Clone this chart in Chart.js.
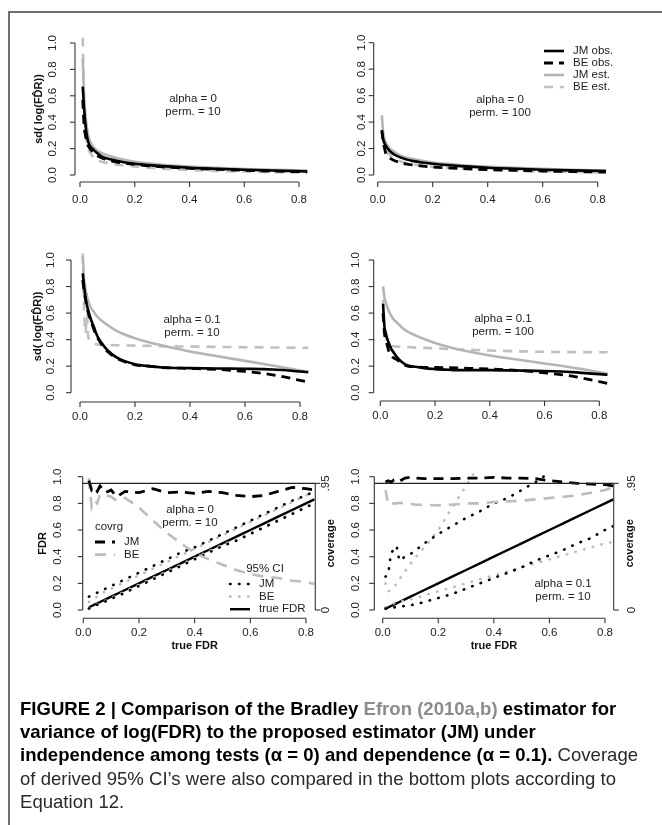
<!DOCTYPE html>
<html>
<head>
<meta charset="utf-8">
<title>Figure 2</title>
<script src="https://cdn.jsdelivr.net/npm/chart.js@4.4.1/dist/chart.umd.min.js"></script>
<style>
  html, body { margin: 0; padding: 0; background: #fff; }
  body { position: relative; width: 662px; height: 825px; overflow: hidden; }
  #frame { position: absolute; left: 8px; top: 11px; width: 720px; height: 900px;
           border: 2px solid #707070; box-sizing: border-box; }
  .panel { position: absolute; left: 0; top: 0; }
  #caption { position: absolute; left: 20px; top: 697px; color: #2a2a2a; white-space: nowrap;
             font-family: "Liberation Sans", Arial, sans-serif;
             font-size: 19px; line-height: 23.2px; transform-origin: 0 0; }
  #caption b { color: #000; }
  #caption .ref { color: #8c8c8c; }
</style>
</head>
<body>
<div id="frame"></div>
<canvas class="panel" id="tl" width="662" height="825"></canvas>
<canvas class="panel" id="tr" width="662" height="825"></canvas>
<canvas class="panel" id="ml" width="662" height="825"></canvas>
<canvas class="panel" id="mr" width="662" height="825"></canvas>
<canvas class="panel" id="bl" width="662" height="825"></canvas>
<canvas class="panel" id="br" width="662" height="825"></canvas>
<div id="caption">
  <div id="capFirst"><b>FIGURE 2 | Comparison of the Bradley <span class="ref">Efron (2010a,b)</span> estimator for</b></div>
  <div><b>variance of log(FDR) to the proposed estimator (JM) under</b></div>
  <div><b>independence among tests (α = 0) and dependence (α = 0.1).</b> Coverage</div>
  <div>of derived 95% CI’s were also compared in the bottom plots according to</div>
  <div>Equation 12.</div>
</div>
<script>
// ---------- data ----------
// true FDR grids (x values)
const fdrTop = [0.01, 0.015, 0.02, 0.025, 0.03, 0.04, 0.05, 0.06, 0.08, 0.1, 0.13, 0.16, 0.2, 0.25, 0.3, 0.4, 0.5, 0.6, 0.7, 0.83];
const fdrTop100 = [0.015, 0.02, 0.025, 0.03, 0.04, 0.05, 0.06, 0.08, 0.1, 0.13, 0.16, 0.2, 0.25, 0.3, 0.4, 0.5, 0.6, 0.7, 0.83];
const fdrCovA = [0.02, 0.03, 0.04, 0.05, 0.06, 0.08, 0.1, 0.12, 0.15, 0.2, 0.25, 0.3, 0.35, 0.4, 0.45, 0.5, 0.55, 0.6, 0.65, 0.7, 0.75, 0.8, 0.83];
const fdrCovB = [0.01, 0.02, 0.03, 0.04, 0.05, 0.06, 0.08, 0.1, 0.12, 0.15, 0.2, 0.25, 0.3, 0.35, 0.4, 0.45, 0.5, 0.55, 0.6, 0.65, 0.7, 0.75, 0.8, 0.83];

// alpha = 0, perm = 10
const tlJmObs = [0.67, 0.5, 0.38, 0.3, 0.25, 0.21, 0.19, 0.17, 0.14, 0.125, 0.11, 0.097, 0.085, 0.075, 0.067, 0.055, 0.047, 0.04, 0.034, 0.027];
const tlBeObs = [0.57, 0.37, 0.3, 0.25, 0.22, 0.19, 0.17, 0.15, 0.13, 0.115, 0.1, 0.09, 0.08, 0.07, 0.062, 0.05, 0.042, 0.036, 0.03, 0.024];
const tlJmEst = [0.88, 0.6, 0.45, 0.36, 0.3, 0.24, 0.21, 0.19, 0.165, 0.15, 0.13, 0.115, 0.1, 0.088, 0.078, 0.064, 0.054, 0.046, 0.04, 0.033];
const tlBeEst = [1.04, 0.55, 0.33, 0.25, 0.2, 0.16, 0.13, 0.115, 0.1, 0.09, 0.08, 0.072, 0.065, 0.055, 0.048, 0.038, 0.031, 0.026, 0.022, 0.018];

// alpha = 0, perm = 100
const trJmObs = [0.33, 0.27, 0.24, 0.22, 0.19, 0.17, 0.155, 0.135, 0.12, 0.105, 0.095, 0.085, 0.075, 0.067, 0.055, 0.047, 0.04, 0.035, 0.03];
const trBeObs = [0.34, 0.25, 0.2, 0.16, 0.135, 0.12, 0.11, 0.095, 0.085, 0.075, 0.068, 0.06, 0.054, 0.049, 0.041, 0.035, 0.03, 0.026, 0.022];
const trJmEst = [0.45, 0.32, 0.27, 0.24, 0.21, 0.19, 0.175, 0.15, 0.135, 0.12, 0.108, 0.095, 0.085, 0.076, 0.063, 0.054, 0.046, 0.04, 0.034];
const trBeEst = [0.3, 0.26, 0.22, 0.19, 0.16, 0.14, 0.125, 0.105, 0.092, 0.08, 0.071, 0.062, 0.054, 0.048, 0.039, 0.032, 0.027, 0.023, 0.019];

// alpha = 0.1, perm = 10
const mlJmObs = [0.9, 0.8, 0.72, 0.66, 0.62, 0.55, 0.5, 0.44, 0.37, 0.32, 0.27, 0.24, 0.215, 0.2, 0.19, 0.185, 0.182, 0.18, 0.175, 0.155];
const mlBeObs = [0.85, 0.76, 0.7, 0.65, 0.6, 0.54, 0.48, 0.43, 0.36, 0.31, 0.265, 0.235, 0.21, 0.2, 0.19, 0.183, 0.175, 0.16, 0.135, 0.08];
const mlJmEst = [1.03, 0.85, 0.78, 0.73, 0.69, 0.64, 0.61, 0.58, 0.54, 0.51, 0.47, 0.44, 0.41, 0.38, 0.355, 0.31, 0.275, 0.24, 0.205, 0.155];
const mlBeEst = [1.05, 0.62, 0.45, 0.58, 0.42, 0.39, 0.375, 0.365, 0.36, 0.36, 0.358, 0.356, 0.355, 0.353, 0.35, 0.348, 0.345, 0.343, 0.341, 0.338];

// alpha = 0.1, perm = 100
const mrJmObs = [0.67, 0.5, 0.45, 0.41, 0.38, 0.33, 0.3, 0.27, 0.23, 0.205, 0.195, 0.185, 0.178, 0.173, 0.17, 0.17, 0.167, 0.163, 0.155, 0.135];
const mrBeObs = [0.6, 0.45, 0.4, 0.36, 0.32, 0.28, 0.26, 0.25, 0.22, 0.2, 0.195, 0.19, 0.19, 0.188, 0.185, 0.178, 0.168, 0.15, 0.125, 0.07];
const mrJmEst = [0.8, 0.72, 0.68, 0.65, 0.62, 0.58, 0.55, 0.53, 0.49, 0.46, 0.43, 0.405, 0.375, 0.345, 0.32, 0.28, 0.25, 0.22, 0.19, 0.145];
const mrBeEst = [0.7, 0.5, 0.42, 0.39, 0.37, 0.355, 0.35, 0.348, 0.345, 0.343, 0.34, 0.338, 0.335, 0.33, 0.325, 0.318, 0.312, 0.308, 0.306, 0.305];

// coverage + 95% CI, alpha = 0, perm = 10
const blJmCov = [0.97, 0.9, 0.92, 0.89, 0.93, 0.88, 0.9, 0.85, 0.89, 0.88, 0.91, 0.88, 0.885, 0.875, 0.89, 0.88, 0.86, 0.85, 0.86, 0.89, 0.92, 0.91, 0.9];
const blBeCov = [0.99, 0.77, 0.82, 0.8, 0.87, 0.86, 0.85, 0.82, 0.84, 0.77, 0.67, 0.58, 0.5, 0.43, 0.38, 0.34, 0.3, 0.27, 0.25, 0.24, 0.22, 0.21, 0.195];
const blJmUpper = [0.1, 0.11, 0.12, 0.13, 0.14, 0.16, 0.18, 0.2, 0.23, 0.28, 0.33, 0.38, 0.43, 0.47, 0.52, 0.57, 0.62, 0.67, 0.72, 0.77, 0.82, 0.86, 0.89];
const blBeUpper = [0.06, 0.08, 0.09, 0.1, 0.12, 0.14, 0.16, 0.18, 0.21, 0.26, 0.31, 0.36, 0.41, 0.46, 0.51, 0.56, 0.61, 0.66, 0.71, 0.76, 0.81, 0.86, 0.88];
const blJmLower = [0.01, 0.02, 0.03, 0.04, 0.045, 0.065, 0.085, 0.1, 0.13, 0.18, 0.23, 0.28, 0.33, 0.38, 0.43, 0.48, 0.52, 0.57, 0.62, 0.67, 0.72, 0.77, 0.8];
const blBeLower = [0.015, 0.025, 0.035, 0.045, 0.05, 0.07, 0.09, 0.11, 0.14, 0.19, 0.24, 0.29, 0.34, 0.39, 0.44, 0.49, 0.53, 0.58, 0.63, 0.68, 0.73, 0.78, 0.81];
const blTruth = [0.02, 0.03, 0.04, 0.05, 0.06, 0.08, 0.1, 0.12, 0.15, 0.2, 0.25, 0.3, 0.35, 0.4, 0.45, 0.5, 0.55, 0.6, 0.65, 0.7, 0.75, 0.8, 0.83];

// coverage + 95% CI, alpha = 0.1, perm = 10
const brJmCov = [0.96, 0.97, 0.96, 0.975, 0.98, 0.965, 0.99, 0.995, 0.99, 0.985, 0.985, 0.985, 0.99, 0.99, 0.995, 0.99, 0.99, 0.985, 0.97, 0.96, 0.95, 0.945, 0.94, 0.93];
const brBeCov = [0.9, 0.79, 0.8, 0.8, 0.8, 0.805, 0.8, 0.795, 0.79, 0.79, 0.785, 0.79, 0.8, 0.8, 0.81, 0.815, 0.82, 0.83, 0.84, 0.85, 0.86, 0.88, 0.9, 0.92];
const brJmUpper = [0.25, 0.27, 0.43, 0.45, 0.48, 0.37, 0.4, 0.42, 0.45, 0.5, 0.57, 0.63, 0.69, 0.74, 0.8, 0.84, 0.9, 0.96, 1.03];
const brBeUpper = [0.2, 0.14, 0.15, 0.17, 0.2, 0.23, 0.29, 0.35, 0.4, 0.47, 0.6, 0.77, 0.93, 1.1];
const brJmLower = [0.01, 0.01, 0.015, 0.02, 0.02, 0.025, 0.03, 0.035, 0.045, 0.06, 0.09, 0.12, 0.16, 0.2, 0.24, 0.28, 0.32, 0.37, 0.41, 0.45, 0.5, 0.54, 0.6, 0.63];
const brBeLower = [0.02, 0.03, 0.04, 0.05, 0.055, 0.06, 0.07, 0.08, 0.09, 0.11, 0.14, 0.17, 0.2, 0.23, 0.26, 0.29, 0.32, 0.35, 0.38, 0.41, 0.44, 0.47, 0.5, 0.51];
const brTruth = [0.01, 0.02, 0.03, 0.04, 0.05, 0.06, 0.08, 0.1, 0.12, 0.15, 0.2, 0.25, 0.3, 0.35, 0.4, 0.45, 0.5, 0.55, 0.6, 0.65, 0.7, 0.75, 0.8, 0.83];

// ticks
const xTickVals = [0, 0.2, 0.4, 0.6, 0.8];
const yTickVals = [0, 0.2, 0.4, 0.6, 0.8, 1.0];
const covTickVals = [0, 0.95];
const covTickLabels = ['0', '.95'];
const coverageTarget = 0.95;

// ---------- styles ----------
const GREY = '#b5b5b5';
const lineStyles = {
    jmObs: { borderColor: '#000', borderWidth: 2.6 },
    beObs: { borderColor: '#000', borderWidth: 2.8, borderDash: [9, 6] },
    jmEst: { borderColor: GREY, borderWidth: 2.6 },
    beEst: { borderColor: '#c0c0c0', borderWidth: 2.6, borderDash: [9, 7] },
    jmCov: { borderColor: '#000', borderWidth: 2.8, borderDash: [10, 7] },
    beCov: { borderColor: '#bdbdbd', borderWidth: 2.6, borderDash: [11, 8] },
    jmCI:  { borderColor: '#000', borderWidth: 2.6, borderDash: [0.5, 8.5], borderCapStyle: 'round' },
    beCI:  { borderColor: '#bdbdbd', borderWidth: 2.6, borderDash: [0.5, 8.5], borderCapStyle: 'round' },
    truth: { borderColor: '#000', borderWidth: 2.4 },
};

const TICK_FONT = '11.5px "Liberation Sans", Arial, sans-serif';
const TITLE_FONT = 'bold 11px "Liberation Sans", Arial, sans-serif';

// R-like axes, titles, notes and legends drawn off the chart's own scales
const rStyle = {
    id: 'rStyle',
    afterDatasetsDraw(chart, args, o) {
        const { ctx, chartArea: a, scales: { x, y } } = chart;
        const seg = (x1, y1, x2, y2) => { ctx.beginPath(); ctx.moveTo(x1, y1); ctx.lineTo(x2, y2); ctx.stroke(); };
        const vText = (t, px, py) => {
            ctx.save(); ctx.translate(px, py); ctx.rotate(-Math.PI / 2); ctx.fillText(t, 0, 0); ctx.restore();
        };
        ctx.save();
        ctx.textAlign = 'center';
        ctx.textBaseline = 'middle';
        ctx.fillStyle = '#222';

        if (o.hline) {
            ctx.strokeStyle = '#222'; ctx.lineWidth = 1.3;
            const py = y.getPixelForValue(coverageTarget);
            seg(a.left, py, a.right, py);
        }

        ctx.strokeStyle = '#333';
        ctx.lineWidth = 1.1;
        ctx.font = TICK_FONT;

        // bottom axis
        const xp = xTickVals.map(v => x.getPixelForValue(v));
        seg(xp[0], a.bottom, xp[xp.length - 1], a.bottom);
        xp.forEach((p, i) => {
            seg(p, a.bottom, p, a.bottom + 5);
            ctx.fillText(xTickVals[i].toFixed(1), p, a.bottom + o.xLab);
        });

        // left axis
        const yp = yTickVals.map(v => y.getPixelForValue(v));
        seg(a.left, yp[0], a.left, yp[yp.length - 1]);
        yp.forEach((p, i) => {
            seg(a.left, p, a.left - 5, p);
            vText(yTickVals[i].toFixed(1), a.left - o.yLab, p);
        });

        // right coverage axis
        if (o.right) {
            const rp = covTickVals.map(v => y.getPixelForValue(v));
            seg(a.right, rp[0], a.right, rp[rp.length - 1]);
            rp.forEach((p, i) => {
                seg(a.right, p, a.right + 5, p);
                vText(covTickLabels[i], a.right + o.right.lab, p);
            });
        }

        ctx.font = TITLE_FONT;
        ctx.fillStyle = '#111';
        const midY = (y.getPixelForValue(0) + y.getPixelForValue(1)) / 2;
        if (o.yTitle) vText(o.yTitle.text, a.left - o.yTitle.dx, midY);
        if (o.right) vText(o.right.title, a.right + o.right.dx, midY);
        if (o.xTitle) ctx.fillText(o.xTitle.text, (xp[0] + xp[xp.length - 1]) / 2, a.bottom + o.xTitle.dy);

        // annotations
        ctx.font = TICK_FONT;
        ctx.fillStyle = '#222';
        (o.notes || []).forEach(n => n.lines.forEach((t, i) => ctx.fillText(t, n.x, n.y + i * 12.5)));

        // legends
        (o.legends || []).forEach(lg => {
            if (lg.title) { ctx.textAlign = 'center'; ctx.fillText(lg.title, lg.titleX, lg.y); }
            lg.rows.forEach((r, i) => {
                const st = lineStyles[r.style];
                const ry = lg.y + (lg.title ? 15 : 0) + i * lg.step;
                ctx.save();
                ctx.strokeStyle = st.borderColor;
                ctx.lineWidth = st.borderWidth;
                ctx.lineCap = st.borderCapStyle || 'butt';
                ctx.setLineDash(st.borderDash || []);
                seg(lg.x, ry, lg.x + 20, ry);
                ctx.restore();
                ctx.textAlign = 'left';
                ctx.fillText(r.label, lg.x + 29, ry);
            });
        });
        ctx.restore();
    }
};

// ---------- panels ----------
const W = 662, H = 825;
const panels = [
    {
        id: 'tl', smooth: true,
        box: { x0: 80, x8: 299, y0: 175, y1: 43, left: 75, right: 316, top: 30, bottom: 182 },
        series: [[fdrTop, tlBeEst, 'beEst'], [fdrTop, tlJmEst, 'jmEst'], [fdrTop, tlBeObs, 'beObs'], [fdrTop, tlJmObs, 'jmObs']],
        deco: { xLab: 18, yLab: 22, yTitle: { text: 'sd( log(FD\u0302R))', dx: 36 },
                notes: [{ x: 193, y: 99, lines: ['alpha = 0', 'perm. = 10'] }] },
    },
    {
        id: 'tr', smooth: true,
        box: { x0: 377.7, x8: 597.7, y0: 175, y1: 42.7, left: 373.7, right: 612, top: 30, bottom: 182 },
        series: [[fdrTop100, trBeEst, 'beEst'], [fdrTop100, trJmEst, 'jmEst'], [fdrTop100, trBeObs, 'beObs'], [fdrTop100, trJmObs, 'jmObs']],
        deco: { xLab: 18, yLab: 12,
                notes: [{ x: 500, y: 100, lines: ['alpha = 0', 'perm. = 100'] }],
                legends: [{ x: 544, y: 51, step: 12, rows: [
                    { label: 'JM obs.', style: 'jmObs' }, { label: 'BE obs.', style: 'beObs' },
                    { label: 'JM est.', style: 'jmEst' }, { label: 'BE est.', style: 'beEst' }] }] },
    },
    {
        id: 'ml', smooth: true,
        box: { x0: 80, x8: 300, y0: 392.7, y1: 260, left: 71, right: 316, top: 248, bottom: 402 },
        series: [[fdrTop, mlBeEst, 'beEst'], [fdrTop, mlJmEst, 'jmEst'], [fdrTop, mlJmObs, 'jmObs'], [fdrTop, mlBeObs, 'beObs']],
        deco: { xLab: 15, yLab: 20, yTitle: { text: 'sd( log(FD\u0302R))', dx: 33 },
                notes: [{ x: 192, y: 320, lines: ['alpha = 0.1', 'perm. = 10'] }] },
    },
    {
        id: 'mr', smooth: true,
        box: { x0: 380.3, x8: 599.3, y0: 392.7, y1: 260, left: 373.7, right: 612, top: 248, bottom: 401 },
        series: [[fdrTop, mrBeEst, 'beEst'], [fdrTop, mrJmEst, 'jmEst'], [fdrTop, mrJmObs, 'jmObs'], [fdrTop, mrBeObs, 'beObs']],
        deco: { xLab: 15, yLab: 18,
                notes: [{ x: 503, y: 319, lines: ['alpha = 0.1', 'perm. = 100'] }] },
    },
    {
        id: 'bl', smooth: false,
        box: { x0: 83.3, x8: 306, y0: 610, y1: 476.7, left: 82.7, right: 315.3, top: 471, bottom: 618.3 },
        series: [[fdrCovA, blTruth, 'truth'], [fdrCovA, blBeUpper, 'beCI'], [fdrCovA, blBeLower, 'beCI'],
                 [fdrCovA, blJmUpper, 'jmCI'], [fdrCovA, blJmLower, 'jmCI'],
                 [fdrCovA, blBeCov, 'beCov'], [fdrCovA, blJmCov, 'jmCov']],
        deco: { hline: true, xLab: 15, yLab: 25, yTitle: { text: 'FDR', dx: 40 }, xTitle: { text: 'true FDR', dy: 28 },
                right: { lab: 11, title: 'coverage', dx: 16 },
                notes: [{ x: 190, y: 510, lines: ['alpha = 0', 'perm. = 10'] }],
                legends: [
                    { title: 'covrg', titleX: 109, x: 95, y: 527, step: 12.6, rows: [
                        { label: 'JM', style: 'jmCov' }, { label: 'BE', style: 'beCov' }] },
                    { title: '95% CI', titleX: 265, x: 230, y: 569, step: 12.6, rows: [
                        { label: 'JM', style: 'jmCI' }, { label: 'BE', style: 'beCI' }, { label: 'true FDR', style: 'truth' }] }] },
    },
    {
        id: 'br', smooth: false,
        box: { x0: 382.7, x8: 605, y0: 610, y1: 476.7, left: 374.3, right: 613.7, top: 471, bottom: 618.3 },
        series: [[fdrCovB, brTruth, 'truth'], [fdrCovB, brBeUpper, 'beCI'], [fdrCovB, brBeLower, 'beCI'],
                 [fdrCovB, brJmUpper, 'jmCI'], [fdrCovB, brJmLower, 'jmCI'],
                 [fdrCovB, brBeCov, 'beCov'], [fdrCovB, brJmCov, 'jmCov']],
        deco: { hline: true, xLab: 15, yLab: 18, xTitle: { text: 'true FDR', dy: 28 },
                right: { lab: 18, title: 'coverage', dx: 16 },
                notes: [{ x: 563, y: 584, lines: ['alpha = 0.1', 'perm. = 10'] }] },
    },
];

const makePanel = (p) => {
    const b = p.box;
    const ppx = (b.x8 - b.x0) / 0.8;
    const ppy = b.y0 - b.y1;
    new Chart(document.getElementById(p.id), {
        type: 'line',
        data: {
            datasets: p.series.map(([xs, ys, key], i, all) => ({
                data: ys.map((v, j) => ({ x: xs[j], y: v })),
                ...lineStyles[key],
                pointRadius: 0,
                fill: false,
                clip: 0,
                order: all.length - i, // R-style: later series on top
                cubicInterpolationMode: p.smooth ? 'monotone' : 'default',
                tension: 0,
            })),
        },
        options: {
            responsive: false,
            animation: false,
            events: [],
            layout: { padding: { left: b.left, top: b.top, right: W - b.right, bottom: H - b.bottom } },
            scales: {
                x: { type: 'linear', display: false, min: (b.left - b.x0) / ppx, max: (b.right - b.x0) / ppx },
                y: { type: 'linear', display: false, min: (b.y0 - b.bottom) / ppy, max: (b.y0 - b.top) / ppy },
            },
            plugins: { legend: { display: false }, tooltip: { enabled: false }, rStyle: p.deco },
        },
        plugins: [rStyle],
    });
};

panels.forEach(makePanel);

// condensed caption: squeeze so the first line spans like the printed one
const cap = document.getElementById('caption');
const firstW = document.getElementById('capFirst').firstElementChild.getBoundingClientRect().width;
cap.style.transform = 'scaleX(' + (596 / firstW).toFixed(3) + ')';
</script>
</body>
</html>
